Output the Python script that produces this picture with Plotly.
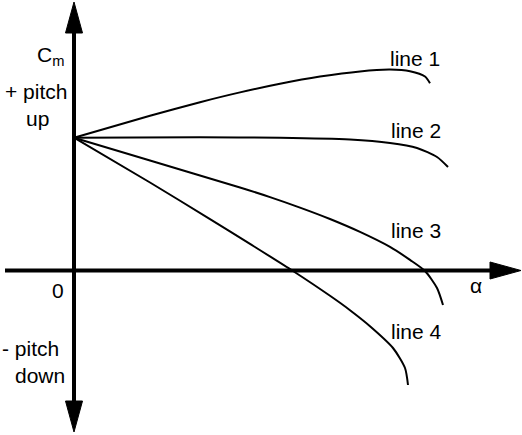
import plotly.graph_objects as go

# ---- data (alpha and Cm in arbitrary schematic units) ----
alpha_line1 = [0, 7.6, 12.6, 16.6, 20.6, 24.6, 28.6, 31.6, 33.6, 35.1, 35.6]
cm_line1 = [13.28, 15.48, 16.83, 17.81, 18.67, 19.39, 19.91, 20.09, 19.93, 19.4, 18.72]

alpha_line2 = [0, 12.6, 20.6, 27.6, 31.6, 34.3, 36.3, 37.4]
cm_line2 = [13.28, 13.32, 13.28, 13.1, 12.75, 12.25, 11.35, 10.35]

alpha_line3 = [0, 7.6, 16.6, 19.6, 22.6, 25.6, 28.6, 31.6, 33.6, 35.1, 36.3, 36.9]
cm_line3 = [13.28, 11.0, 8.3, 7.34, 6.29, 5.15, 3.86, 2.36, 1.06, -0.05, -1.75, -3.45]

alpha_line4 = [0, 7.6, 13.6, 17.6, 21.9, 25.6, 27.6, 29.6, 31.9, 33.1, 33.4]
cm_line4 = [13.28, 8.8, 5.14, 2.66, -0.05, -2.53, -3.97, -5.57, -7.75, -9.75, -11.45]

series_names = ["line 1", "line 2", "line 3", "line 4"]
series_alpha = [alpha_line1, alpha_line2, alpha_line3, alpha_line4]
series_cm = [cm_line1, cm_line2, cm_line3, cm_line4]

W, H = 522, 435
X_RANGE = [-7.4, 44.8]
Y_RANGE = [-16.45, 27.05]
FONT = "Liberation Sans, Arial, sans-serif"


def px(xp, yp):
    """pixel position in the figure -> data coordinates (for layout placement only)"""
    x = X_RANGE[0] + xp / W * (X_RANGE[1] - X_RANGE[0])
    y = Y_RANGE[1] - yp / H * (Y_RANGE[1] - Y_RANGE[0])
    return x, y


fig = go.Figure()
for name, a, c in zip(series_names, series_alpha, series_cm):
    fig.add_trace(go.Scatter(x=a, y=c, mode="lines", name=name,
                             line=dict(color="black", width=2, shape="spline", smoothing=0.7),
                             hoverinfo="skip"))

# ---- axes with arrowheads ----
ax_top = px(74, 2)[1]
ax_bot = px(74, 432)[1]
ax_left = px(5, 270.5)[0]
ax_right = px(521, 270.5)[0]
head_len = 3.1
head_hw = 0.85

shapes = [
    dict(type="line", x0=0, x1=0, y0=ax_bot + head_len * 0.5, y1=ax_top - head_len * 0.5,
         line=dict(color="black", width=4), layer="above"),
    dict(type="line", x0=ax_left, x1=ax_right - head_len * 0.5, y0=0, y1=0,
         line=dict(color="black", width=4), layer="above"),
    dict(type="path", path=f"M {-head_hw},{ax_top - head_len} L {head_hw},{ax_top - head_len} L 0,{ax_top} Z",
         fillcolor="black", line=dict(color="black", width=1), layer="above"),
    dict(type="path", path=f"M {-head_hw},{ax_bot + head_len} L {head_hw},{ax_bot + head_len} L 0,{ax_bot} Z",
         fillcolor="black", line=dict(color="black", width=1), layer="above"),
    dict(type="path", path=f"M {ax_right - head_len},{-head_hw} L {ax_right - head_len},{head_hw} L {ax_right},0 Z",
         fillcolor="black", line=dict(color="black", width=1), layer="above"),
]

annotations = []


def label(text, xp, yp, xanchor="center", size=21):
    x, y = px(xp, yp)
    annotations.append(dict(x=x, y=y, text=text, showarrow=False, xanchor=xanchor, yanchor="middle",
                            font=dict(family=FONT, size=size, color="black")))


label("line 1", 415, 58)
label("line 2", 416, 130)
label("line 3", 416, 230)
label("line 4", 416, 331)
label("C<sub>m</sub>", 50, 56)
label("+ pitch", 36, 91)
label("up", 37, 118)
label("0", 58, 290)
label("α", 476, 285)
label("- pitch", 30, 348)
label("down", 40, 375)

fig.update_layout(
    width=W, height=H, autosize=False,
    margin=dict(l=0, r=0, t=0, b=0),
    paper_bgcolor="white", plot_bgcolor="white",
    showlegend=False,
    xaxis=dict(range=X_RANGE, visible=False, fixedrange=True),
    yaxis=dict(range=Y_RANGE, visible=False, fixedrange=True),
    shapes=shapes,
    annotations=annotations,
)

fig.write_html("out.html", config={"displayModeBar": False},
               post_script="document.body.style.margin='0';document.body.style.overflow='hidden';")
